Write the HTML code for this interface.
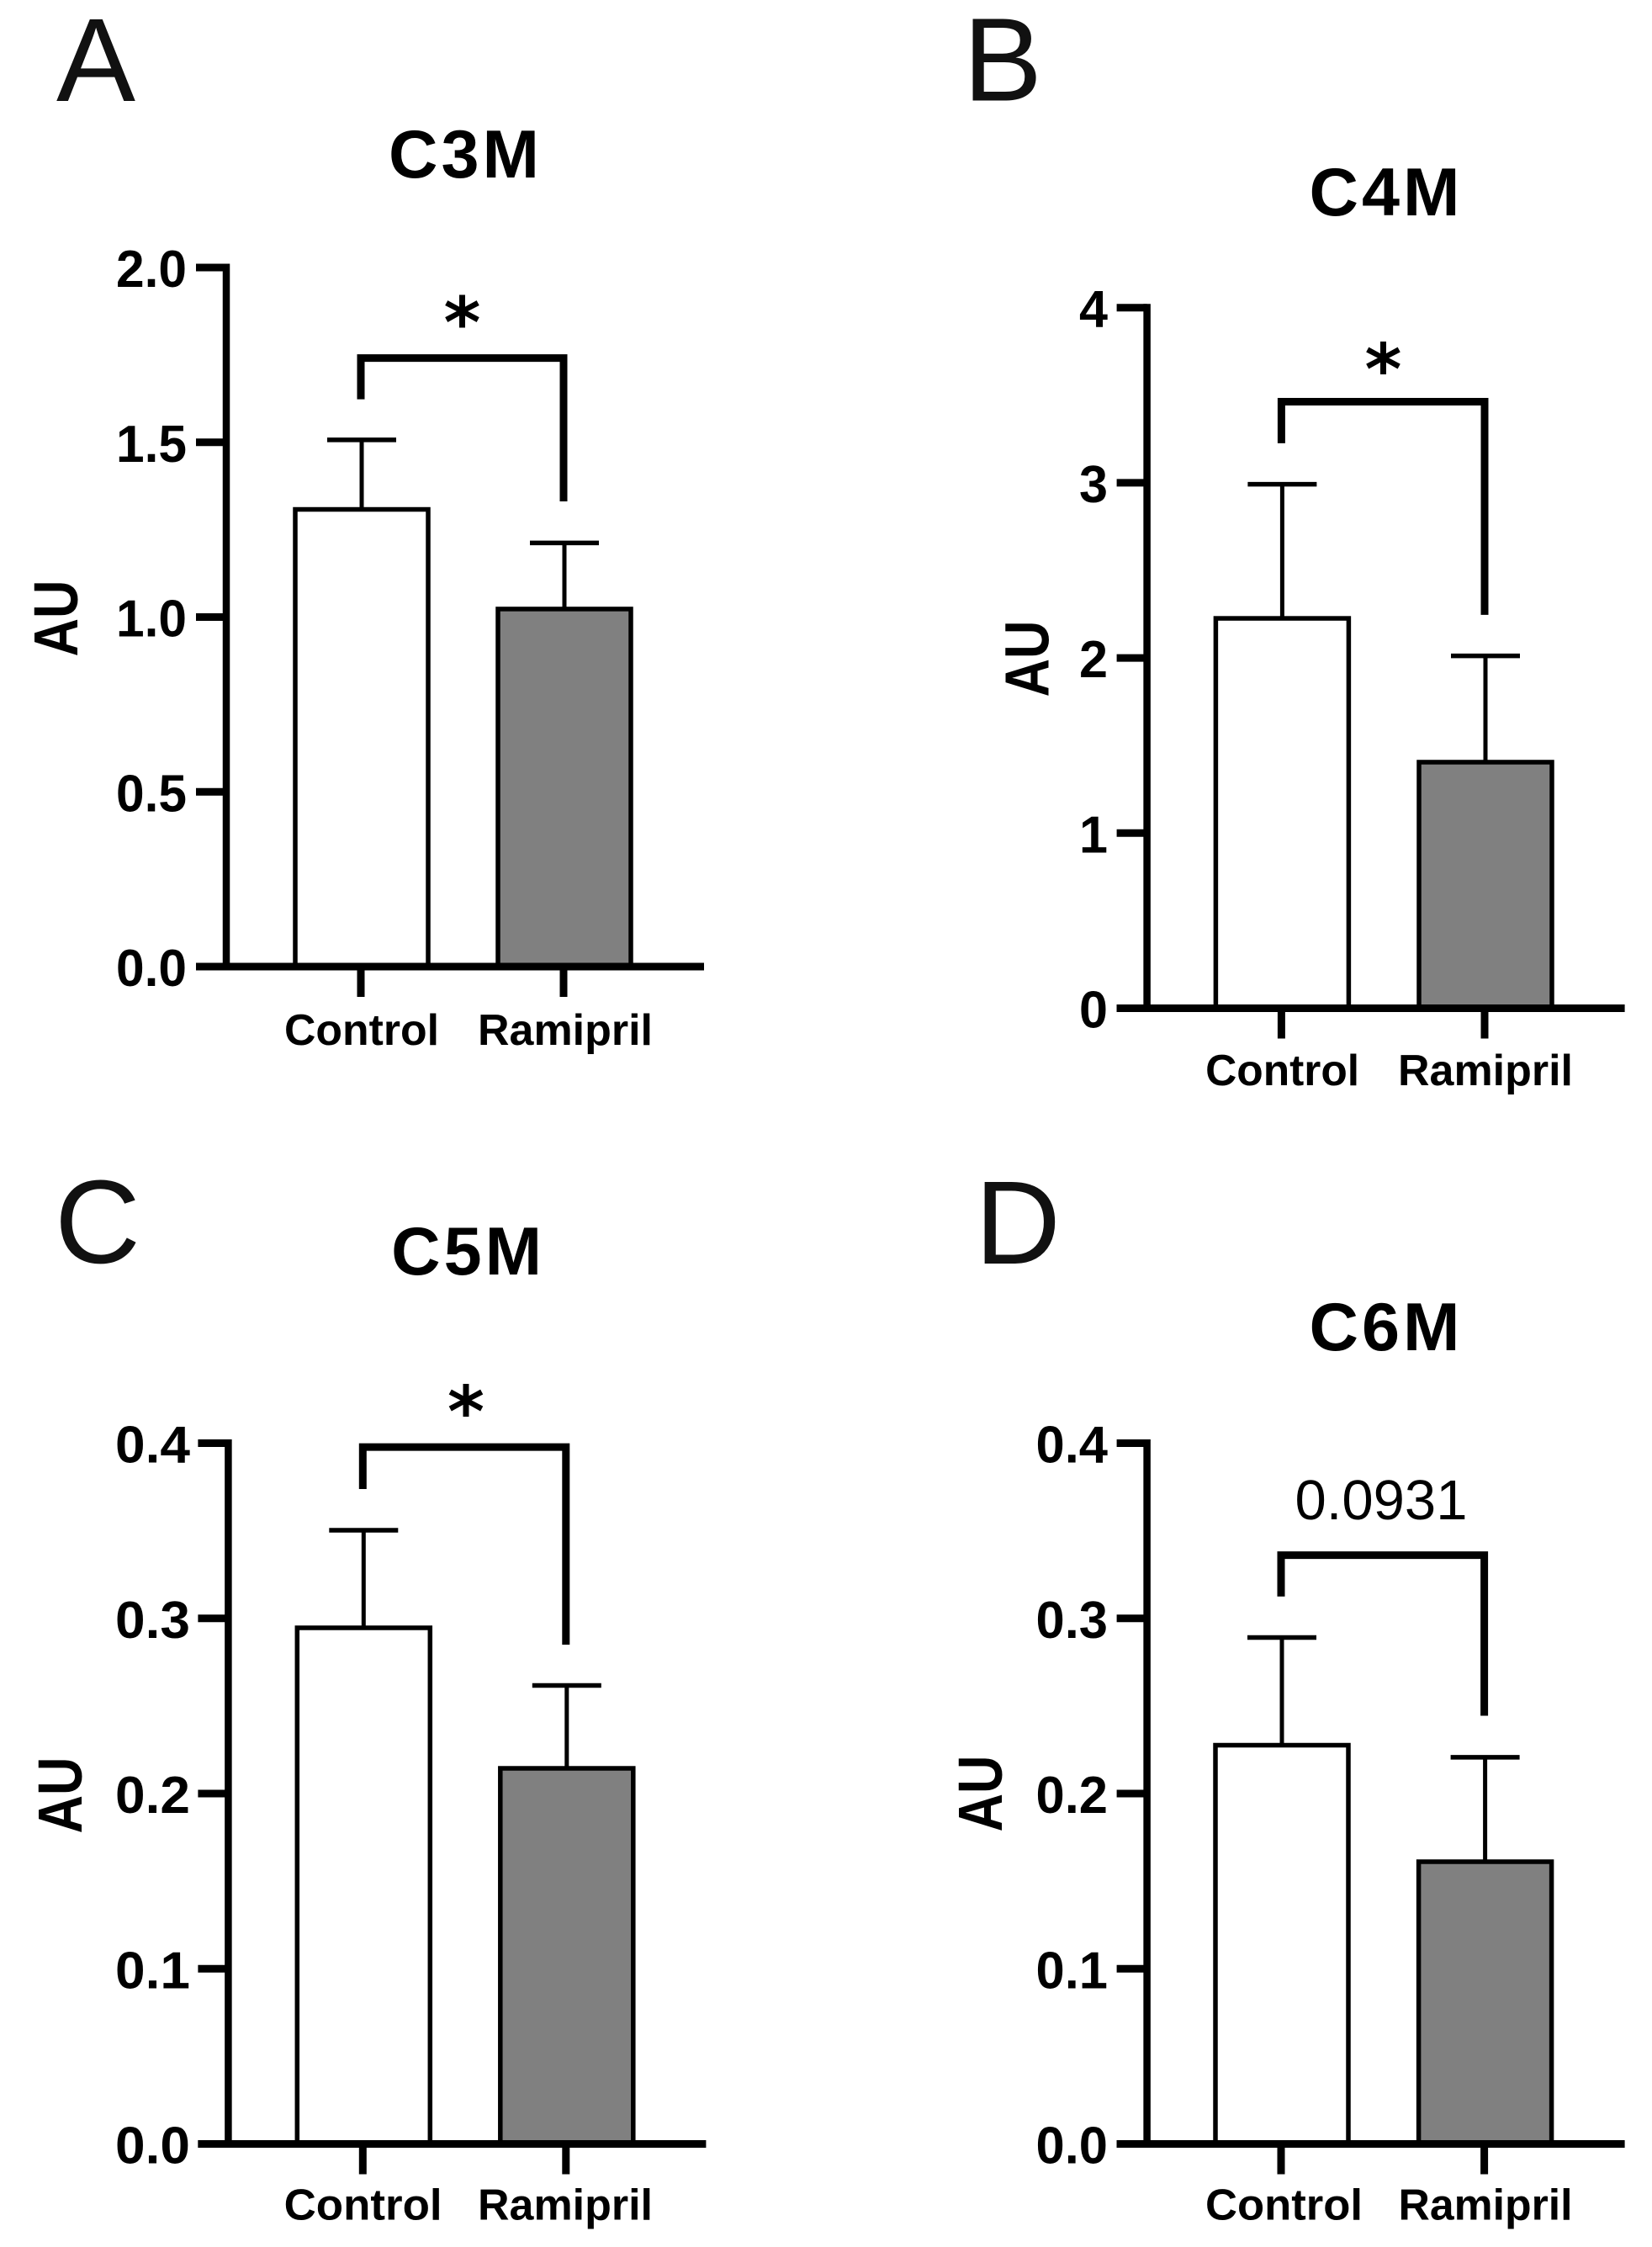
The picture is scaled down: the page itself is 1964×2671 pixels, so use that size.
<!DOCTYPE html>
<html lang="en">
<head>
<meta charset="utf-8">
<title>C3M, C4M, C5M and C6M: Control vs Ramipril</title>
<style>
  html, body { margin: 0; padding: 0; background: #fff; }
  svg { display: block; }
  text { font-family: "Liberation Sans", Arial, sans-serif; fill: #000; }
  .title { font-size: 81px; font-weight: 700; text-anchor: middle; letter-spacing: 4px; }
  .letter { font-size: 141px; font-weight: 400; text-anchor: middle; fill: #111; }
  .axis-title { font-size: 74px; font-weight: 700; text-anchor: middle; }
  .tick { font-size: 62px; font-weight: 700; text-anchor: end; }
  .cat { font-size: 52px; font-weight: 700; text-anchor: middle; }
  .star { font-family: "DejaVu Sans", sans-serif; font-size: 84px; font-weight: 700; text-anchor: middle; }
  .pval { font-size: 67px; font-weight: 400; text-anchor: middle; }
</style>
</head>
<body>
<svg id="figure" xmlns="http://www.w3.org/2000/svg" width="1964" height="2671" viewBox="0 0 1964 2671">
  <rect x="0" y="0" width="1964" height="2671" fill="#ffffff"/>

  <text class="letter" x="114" y="120">A</text>
  <text class="letter" x="1192" y="119.5">B</text>
  <text class="letter" x="116" y="1501">C</text>
  <text class="letter" x="1210" y="1502">D</text>

  <text class="title" x="553.5" y="211">C3M</text>
  <text class="title" x="1648" y="256">C4M</text>
  <text class="title" x="556.6" y="1515">C5M</text>
  <text class="title" x="1648" y="1605">C6M</text>

  <text class="axis-title" transform="translate(92,735) rotate(-90)" textLength="91" lengthAdjust="spacingAndGlyphs">AU</text>
  <text class="axis-title" transform="translate(1246.4,783) rotate(-90)" textLength="91" lengthAdjust="spacingAndGlyphs">AU</text>
  <text class="axis-title" transform="translate(96.8,2134) rotate(-90)" textLength="91" lengthAdjust="spacingAndGlyphs">AU</text>
  <text class="axis-title" transform="translate(1191,2132) rotate(-90)" textLength="91" lengthAdjust="spacingAndGlyphs">AU</text>

  <text class="star" x="549.5" y="413">*</text>
  <text class="star" x="1644.5" y="468.5">*</text>
  <text class="star" x="554" y="1707.5">*</text>
  <text class="pval" x="1642" y="1806">0.0931</text>

  <g id="marks"></g>
</svg>

<script>
// ---- Data ----
const categories = ['Control', 'Ramipril'];

const c3mMeans = [1.308, 1.023];
const c3mUpper = [1.507, 1.212];
const c3mTickValues = [0, 0.5, 1, 1.5, 2];
const c3mTickLabels = ['0.0', '0.5', '1.0', '1.5', '2.0'];
const c3mBracket = [1.741, 1.623, 1.331];

const c4mMeans = [2.226, 1.405];
const c4mUpper = [2.992, 2.012];
const c4mTickValues = [0, 1, 2, 3, 4];
const c4mTickLabels = ['0', '1', '2', '3', '4'];
const c4mBracket = [3.463, 3.226, 2.246];

const c5mMeans = [0.2946, 0.2144];
const c5mUpper = [0.3503, 0.2617];
const c5mTickValues = [0, 0.1, 0.2, 0.3, 0.4];
const c5mTickLabels = ['0.0', '0.1', '0.2', '0.3', '0.4'];
const c5mBracket = [0.3978, 0.3738, 0.285];

const c6mMeans = [0.2276, 0.1611];
const c6mUpper = [0.2891, 0.2207];
const c6mTickValues = [0, 0.1, 0.2, 0.3, 0.4];
const c6mTickLabels = ['0.0', '0.1', '0.2', '0.3', '0.4'];
const c6mBracket = [0.3361, 0.3125, 0.2444];

// ---- Layout ----
const NS = 'http://www.w3.org/2000/svg';
const root = document.getElementById('marks');

function mk(tag, attrs, text) {
  const node = document.createElementNS(NS, tag);
  for (const k in attrs) node.setAttribute(k, attrs[k]);
  if (text !== undefined) node.textContent = text;
  root.appendChild(node);
  return node;
}

function drawPanel(p) {
  const yScale = v => p.y0 - (v / p.yMax) * p.ySpan;
  const xScale = i => p.x0 + i * p.step;
  const id = p.id;
  const halfBar = 79;

  // Bars first, so that the axes paint over their base.
  p.means.forEach((m, i) => {
    const cx = xScale(i);
    const stem = mk('line', { x1: cx, x2: cx, y1: yScale(p.upper[i]), y2: yScale(m), stroke: '#000', 'stroke-width': 5 });
    
    

    const cap = mk('line', { x1: cx - 41, x2: cx + 41, y1: yScale(p.upper[i]), y2: yScale(p.upper[i]), stroke: '#000', 'stroke-width': 5.5 });
    
    

    const bar = mk('rect', {
      x: cx - halfBar, y: yScale(m), width: halfBar * 2, height: p.y0 - yScale(m),
      fill: i === 0 ? '#ffffff' : '#808080', stroke: '#000', 'stroke-width': 5.5
    });
    
    
  });

  // Y axis
  const yAxis = mk('line', { x1: p.axisX, x2: p.axisX, y1: yScale(p.yMax) - 4.5, y2: p.y0, stroke: '#000', 'stroke-width': 8.5 });
  
  

  p.tickValues.forEach((v, i) => {
    const tick = mk('line', { x1: p.axisX - 36, x2: p.axisX, y1: yScale(v), y2: yScale(v), stroke: '#000', 'stroke-width': 9 });
    
    

    const label = mk('text', {
      class: 'tick', x: p.tickRight, y: yScale(v) + 23,
      textLength: p.tickLen, lengthAdjust: 'spacingAndGlyphs'
    }, p.tickLabels[i]);
    
    
  });

  // X axis
  const xAxis = mk('line', { x1: p.axisX - 36, x2: p.axisX + 568, y1: p.y0, y2: p.y0, stroke: '#000', 'stroke-width': 9 });
  
  

  categories.forEach((c, i) => {
    const tx = xScale(i) - 1;
    const tick = mk('line', { x1: tx, x2: tx, y1: p.y0 + 4, y2: p.y0 + 36, stroke: '#000', 'stroke-width': 9 });
    
    

    const label = mk('text', {
      class: 'cat', x: p.catX[i], y: p.y0 + p.catDy,
      textLength: p.catLen[i], lengthAdjust: 'spacingAndGlyphs'
    }, c);
    
    
  });

  // Significance bracket, anchored to the y scale
  const lx = xScale(0) - 1;
  const rx = xScale(1) - 1;
  const bracket = mk('path', {
    d: 'M' + lx + ' ' + yScale(p.bracket[1]) + ' L' + lx + ' ' + yScale(p.bracket[0]) +
       ' L' + rx + ' ' + yScale(p.bracket[0]) + ' L' + rx + ' ' + yScale(p.bracket[2]),
    fill: 'none', stroke: '#000', 'stroke-width': 9, 'stroke-linejoin': 'miter'
  });
  
  
}

drawPanel({ id: 'c3m', means: c3mMeans, upper: c3mUpper, tickValues: c3mTickValues, tickLabels: c3mTickLabels, bracket: c3mBracket,
  yMax: 2, y0: 1149, ySpan: 831, axisX: 269, x0: 430, step: 241, tickRight: 222, tickLen: 84,
  catX: [430, 672], catLen: [184, 208], catDy: 93 });
drawPanel({ id: 'c4m', means: c4mMeans, upper: c4mUpper, tickValues: c4mTickValues, tickLabels: c4mTickLabels, bracket: c4mBracket,
  yMax: 4, y0: 1198.5, ySpan: 832.8, axisX: 1363.6, x0: 1524.4, step: 241.6, tickRight: 1317, tickLen: 34,
  catX: [1524.6, 1766], catLen: [183, 208], catDy: 91.6 });
drawPanel({ id: 'c5m', means: c5mMeans, upper: c5mUpper, tickValues: c5mTickValues, tickLabels: c5mTickLabels, bracket: c5mBracket,
  yMax: 0.4, y0: 2548.5, ySpan: 833, axisX: 271.4, x0: 432.3, step: 241.5, tickRight: 226, tickLen: 89,
  catX: [431.6, 672], catLen: [188, 208], catDy: 90 });
drawPanel({ id: 'c6m', means: c6mMeans, upper: c6mUpper, tickValues: c6mTickValues, tickLabels: c6mTickLabels, bracket: c6mBracket,
  yMax: 0.4, y0: 2548.5, ySpan: 833, axisX: 1363.6, x0: 1524, step: 241.6, tickRight: 1317, tickLen: 85.5,
  catX: [1526.5, 1766], catLen: [187, 207], catDy: 90 });
</script>
</body>
</html>
